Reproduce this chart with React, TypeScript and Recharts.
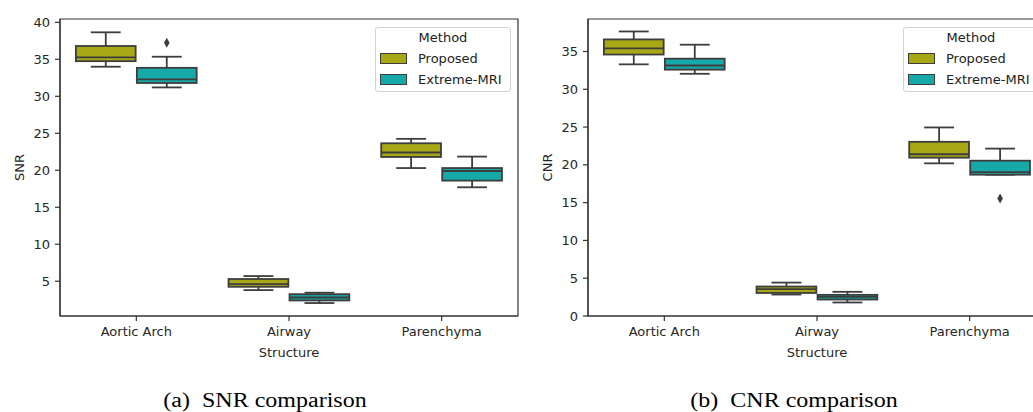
import React from 'react';
import { ComposedChart, Bar, XAxis, YAxis, Legend, Label, ReferenceArea } from 'recharts';

const structures = ['Aortic Arch', 'Airway', 'Parenchyma'];
const methods = ['Proposed', 'Extreme-MRI'];
const methodColors = ['#a8a817', '#17a8a8'];

// per structure: [lower whisker, q1, median, q3, upper whisker]
const snrProposed = [
  [34.0, 34.75, 35.25, 36.8, 38.65],
  [3.8, 4.25, 4.6, 5.3, 5.7],
  [20.3, 21.8, 22.4, 23.65, 24.25],
];
const snrExtreme = [
  [31.2, 31.8, 32.3, 33.85, 35.35],
  [2.05, 2.4, 2.8, 3.25, 3.45],
  [17.7, 18.6, 19.9, 20.3, 21.85],
];
const snrProposedOutliers = [[], [], []];
const snrExtremeOutliers = [[37.25], [], []];

const cnrProposed = [
  [33.3, 34.6, 35.4, 36.6, 37.65],
  [2.84, 3.05, 3.55, 3.9, 4.42],
  [20.2, 20.95, 21.4, 23.05, 24.95],
];
const cnrExtreme = [
  [32.05, 32.6, 33.15, 34.05, 35.9],
  [1.79, 2.18, 2.54, 2.8, 3.2],
  [18.7, 18.7, 19.05, 20.55, 22.15],
];
const cnrProposedOutliers = [[], [], []];
const cnrExtremeOutliers = [[], [], [15.55]];

const snrTicks = [5, 10, 15, 20, 25, 30, 35, 40];
const cnrTicks = [0, 5, 10, 15, 20, 25, 30, 35];
const snrDomain = [0.3, 40.45];
const cnrDomain = [0, 39.3];

const LINE = '#3d3d3d';
const AXIS = '#333';
const FONT = '"DejaVu Sans", sans-serif';

function buildRows(prop: number[][], ext: number[][], propOut: number[][], extOut: number[][]) {
  return structures.map((s, i) => ({
    structure: s,
    proposed: prop[i],
    extreme: ext[i],
    proposedOut: propOut[i],
    extremeOut: extOut[i],
  }));
}

const rangeOf = (st: number[], outs: number[]) => {
  const all = [st[0], st[4], ...outs];
  return [Math.min(...all), Math.max(...all)];
};

function BoxShape(props: any) {
  const { x, y, width, height, payload, statsKey, outKey, color } = props;
  if (!payload) return null;
  const st: number[] = payload[statsKey];
  const outs: number[] = payload[outKey] || [];
  const [vmin, vmax] = rangeOf(st, outs);
  const top = Math.min(y, y + height);
  const h = Math.abs(height);
  const py = (v: number) => top + ((vmax - v) / (vmax - vmin)) * h;
  const inset = width * 0.01;
  const bx = x + inset;
  const bw = width - 2 * inset;
  const cx = x + width / 2;
  const cap = bw / 4;
  const sw = 1.8;
  return (
    <g>
      <line x1={cx} x2={cx} y1={py(st[4])} y2={py(st[3])} stroke={LINE} strokeWidth={sw} />
      <line x1={cx} x2={cx} y1={py(st[1])} y2={py(st[0])} stroke={LINE} strokeWidth={sw} />
      <line x1={cx - cap} x2={cx + cap} y1={py(st[4])} y2={py(st[4])} stroke={LINE} strokeWidth={sw} />
      <line x1={cx - cap} x2={cx + cap} y1={py(st[0])} y2={py(st[0])} stroke={LINE} strokeWidth={sw} />
      <rect x={bx} y={py(st[3])} width={bw} height={py(st[1]) - py(st[3])} fill={color} stroke={LINE} strokeWidth={sw} />
      <line x1={bx} x2={bx + bw} y1={py(st[2])} y2={py(st[2])} stroke={LINE} strokeWidth={sw} />
      {outs.map((o, i) => {
        const oy = py(o);
        return (
          <path key={i} d={`M${cx},${oy - 5} L${cx + 2.8},${oy} L${cx},${oy + 5} L${cx - 2.8},${oy} Z`} fill={LINE} />
        );
      })}
    </g>
  );
}

const MethodLegend = () => (
  <div
    style={{
      position: 'relative',
      width: 136,
      height: 65,
      boxSizing: 'border-box',
      border: '1px solid #d4d4d4',
      borderRadius: 3,
      background: 'rgba(255,255,255,0.8)',
      fontSize: 13,
      color: '#222',
      fontFamily: FONT,
    }}
  >
    <div style={{ position: 'absolute', top: 2, left: 0, right: 0, textAlign: 'center', lineHeight: '16px' }}>Method</div>
    {methods.map((m, i) => (
      <React.Fragment key={m}>
        <div
          style={{
            position: 'absolute',
            left: 4,
            top: 25 + i * 21,
            width: 27,
            height: 11,
            boxSizing: 'border-box',
            background: methodColors[i],
            border: `1px solid ${LINE}`,
          }}
        />
        <div style={{ position: 'absolute', left: 42, top: 23 + i * 21, lineHeight: '16px', whiteSpace: 'nowrap' }}>{m}</div>
      </React.Fragment>
    ))}
  </div>
);

function BoxChart({ rows, domain, ticks, yLabel }: any) {
  const tick = { fontSize: 13, fill: '#262626', fontFamily: FONT };
  const axisLine = { stroke: AXIS, strokeWidth: 1.2 };
  return (
    <ComposedChart
      width={530}
      height={380}
      data={rows}
      margin={{ top: 19, right: 12, left: 0, bottom: 14 }}
      barCategoryGap="10%"
      barGap={0}
    >
      <XAxis
        dataKey="structure"
        height={50}
        tick={tick}
        tickSize={5}
        tickMargin={6}
        axisLine={axisLine}
        tickLine={axisLine}
        interval={0}
      >
        <Label
          content={(p: any) => {
            const vb = p.viewBox || { x: 60, y: 316, width: 458 };
            return (
              <text x={vb.x + vb.width / 2} y={vb.y + 41} textAnchor="middle" fontSize={13} fill="#262626" fontFamily={FONT}>
                Structure
              </text>
            );
          }}
        />
      </XAxis>
      <YAxis
        width={60}
        domain={domain}
        ticks={ticks}
        allowDataOverflow
        tick={tick}
        tickSize={5}
        tickMargin={5}
        axisLine={axisLine}
        tickLine={axisLine}
      >
        <Label
          content={(p: any) => {
            const vb = p.viewBox || { x: 0, y: 19, height: 297 };
            const cx = vb.x + 24;
            const cy = vb.y + vb.height / 2;
            return (
              <text x={cx} y={cy} transform={`rotate(-90 ${cx} ${cy})`} textAnchor="middle" fontSize={13} fill="#262626" fontFamily={FONT}>
                {yLabel}
              </text>
            );
          }}
        />
      </YAxis>
      {/* axes frame (top and right spines) */}
      <ReferenceArea y1={domain[0]} y2={domain[1]} fill="none" fillOpacity={0} stroke={AXIS} strokeWidth={1.2} strokeOpacity={1} />
      <Legend
        layout="vertical"
        align="center"
        verticalAlign="middle"
        wrapperStyle={{ top: 27, left: 375, width: 136, height: 65 }}
        content={() => <MethodLegend />}
      />
      <Bar
        name={methods[0]}
        dataKey={(r: any) => rangeOf(r.proposed, r.proposedOut)}
        fill={methodColors[0]}
        isAnimationActive={false}
        shape={(p: any) => <BoxShape {...p} statsKey="proposed" outKey="proposedOut" color={methodColors[0]} />}
      />
      <Bar
        name={methods[1]}
        dataKey={(r: any) => rangeOf(r.extreme, r.extremeOut)}
        fill={methodColors[1]}
        isAnimationActive={false}
        shape={(p: any) => <BoxShape {...p} statsKey="extreme" outKey="extremeOut" color={methodColors[1]} />}
      />
    </ComposedChart>
  );
}

const captionStyle: React.CSSProperties = {
  position: 'absolute',
  top: 390,
  fontFamily: '"Liberation Serif", "Times New Roman", serif',
  fontSize: 20,
  lineHeight: '20px',
  color: '#000',
  whiteSpace: 'pre',
  transform: 'translateX(-50%) scaleX(1.2)',
};

export default function App() {
  const snrRows = buildRows(snrProposed, snrExtreme, snrProposedOutliers, snrExtremeOutliers);
  const cnrRows = buildRows(cnrProposed, cnrExtreme, cnrProposedOutliers, cnrExtremeOutliers);
  return (
    <div
      style={{
        position: 'fixed',
        top: 0,
        left: 0,
        width: 1033,
        height: 412,
        overflow: 'hidden',
        background: '#fff',
        fontFamily: FONT,
      }}
    >
      <div style={{ position: 'absolute', left: 0, top: 0 }}>
        <BoxChart rows={snrRows} domain={snrDomain} ticks={snrTicks} yLabel="SNR" />
      </div>
      <div style={{ position: 'absolute', left: 528, top: 0 }}>
        <BoxChart rows={cnrRows} domain={cnrDomain} ticks={cnrTicks} yLabel="CNR" />
      </div>
      <div style={{ ...captionStyle, left: 265 }}>{'(a)  SNR comparison'}</div>
      <div style={{ ...captionStyle, left: 794 }}>{'(b)  CNR comparison'}</div>
    </div>
  );
}
